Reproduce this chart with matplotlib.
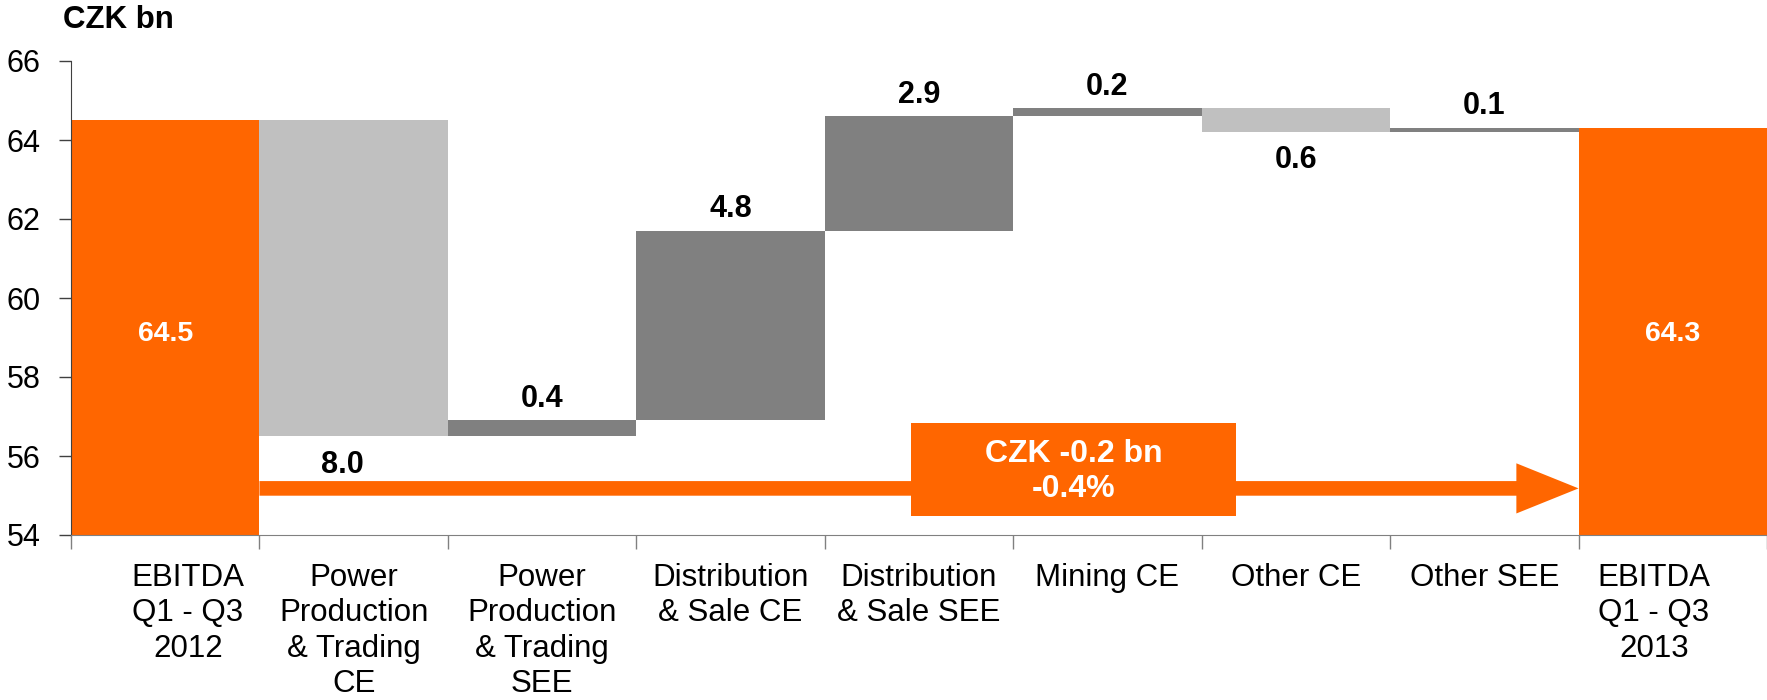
import matplotlib
matplotlib.use("Agg")
import matplotlib.pyplot as plt
from matplotlib import patches
import numpy as np

categories = ["EBITDA\nQ1 - Q3\n2012", "Power\nProduction\n& Trading\nCE", "Power\nProduction\n& Trading\nSEE",
              "Distribution\n& Sale CE", "Distribution\n& Sale SEE", "Mining CE", "Other CE", "Other SEE",
              "EBITDA\nQ1 - Q3\n2013"]
start_value = 64.5
deltas = [-8.0, 0.4, 4.8, 2.9, 0.2, -0.6, 0.1]
end_value = 64.3
delta_labels = ["8.0", "0.4", "4.8", "2.9", "0.2", "0.6", "0.1"]
change_text = "CZK -0.2 bn\n-0.4%"
yticks = [54, 56, 58, 60, 62, 64, 66]

ORANGE = "#FF6600"
LIGHT = "#C0C0C0"
DARK = "#808080"

plt.rcParams['font.family'] = ['Liberation Sans', 'DejaVu Sans']

fig = plt.figure(figsize=(17.67, 7.0), dpi=100)
ax = fig.add_axes([71/1767, 1 - 535/700, 1 - 71/1767, (535 - 61)/700])
ax.set_xlim(-0.5, 8.5)
ax.set_ylim(54, 66)

# totals
ax.bar(0, start_value - 54, bottom=54, width=1.0, color=ORANGE, zorder=2)
ax.bar(8, end_value - 54, bottom=54, width=1.0, color=ORANGE, zorder=2)
ax.text(0, 59.1, f"{start_value:.1f}", color="white", fontsize=20.5, fontweight="bold",
        ha="center", va="center", zorder=5)
ax.text(8, 59.1, f"{end_value:.1f}", color="white", fontsize=20.5, fontweight="bold",
        ha="center", va="center", zorder=5)

level = start_value
for i, (d, lab) in enumerate(zip(deltas, delta_labels), start=1):
    lo, hi = sorted([level, level + d])
    ax.bar(i, hi - lo, bottom=lo, width=1.0, color=(DARK if d > 0 else LIGHT), zorder=2)
    if d > 0:
        ax.text(i, hi + 0.55, lab, fontsize=22, fontweight="bold", ha="center", va="center", zorder=5)
    else:
        if i == 1:
            ax.text(i - 0.06, 55.78, lab, fontsize=22, fontweight="bold", ha="center", va="center", zorder=5)
        else:
            ax.text(i, lo - 0.7, lab, fontsize=22, fontweight="bold", ha="center", va="center", zorder=5)
    level += d

# arrow
arr = patches.FancyArrow(0.5, 55.18, 7.0, 0, width=0.37, head_width=1.27, head_length=0.33,
                         length_includes_head=True, color=ORANGE, lw=0, zorder=3)
ax.add_patch(arr)
box = patches.Rectangle((3.96, 54.48), 1.72, 2.36, facecolor=ORANGE, edgecolor="none", zorder=4)
ax.add_patch(box)
ax.text(4.82, 55.6, change_text, color="white", fontsize=23, fontweight="bold",
        ha="center", va="center", linespacing=1.22, zorder=5)

# axes styling
for s in ["top", "right"]:
    ax.spines[s].set_visible(False)
ax.spines["left"].set_color("#404040")
ax.spines["bottom"].set_color("#808080")
ax.set_yticks(yticks)
ax.tick_params(axis="y", direction="out", length=9, width=1, color="#404040", labelsize=22, pad=13)
ax.set_xticks(np.arange(-0.5, 8.6, 1.0))
ax.set_xticklabels([])
ax.tick_params(axis="x", direction="out", length=10, width=1, color="#808080")

offsets = [0.12, 0, 0, 0, 0, 0, 0, 0, -0.1]
for i, (c, off) in enumerate(zip(categories, offsets)):
    ax.text(i + off, 53.3, c, fontsize=22.5, ha="center", va="top", linespacing=1.24,
            transform=ax.transData, clip_on=False)

fig.text(63/1767, 1 - 20/700, "CZK bn", fontsize=22.5, fontweight="bold", ha="left", va="center")

fig.savefig("out.png", dpi=100)
